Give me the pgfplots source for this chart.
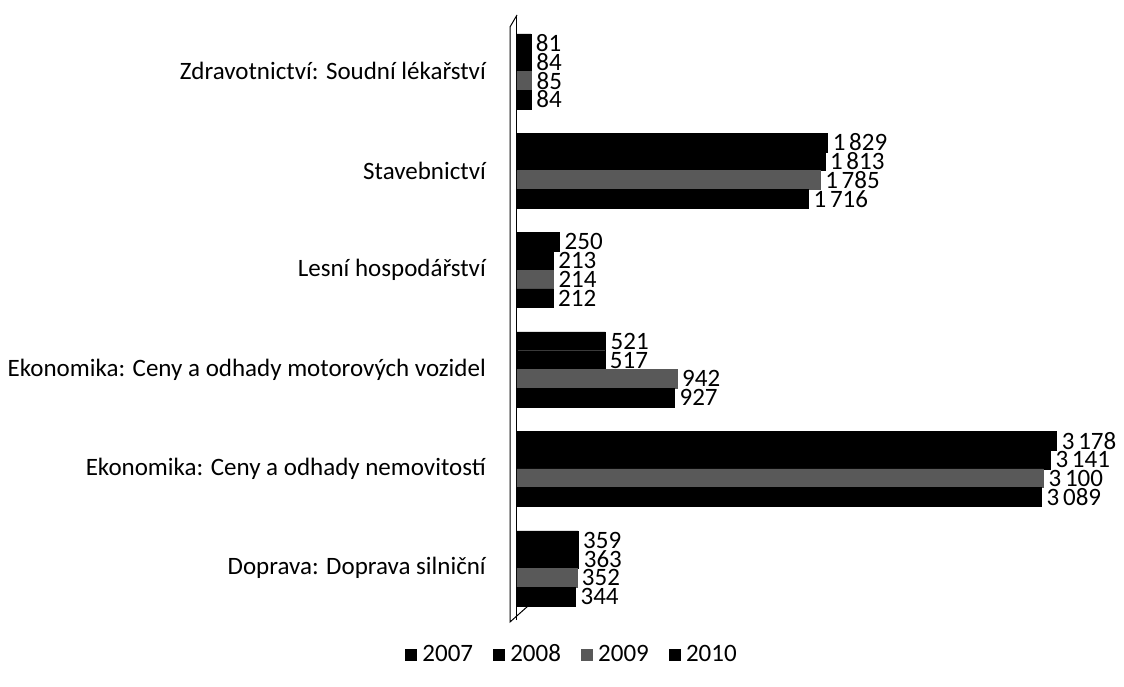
\documentclass[border=0pt]{standalone}
\usepackage{pgfplots}
\pgfplotsset{compat=1.18}
\usepackage{fontspec}
\setmainfont{Carlito}
\begin{document}
\fontsize{25}{28}\selectfont
\begin{tikzpicture}
\begin{axis}[
  at={(517pt,66pt)}, anchor=south west,
  scale only axis, width=594.3pt, height=604.4pt,
  xbar, bar width=18.75pt,
  xmin=0, xmax=3500, ymin=-0.52, ymax=5.56,
  axis x line=none,
  axis y line*=left,
  y axis line style={-, line width=1pt},
  ytick={0,1,2,3,4,5},
  yticklabels={Doprava: Doprava silniční, Ekonomika: Ceny a odhady nemovitostí, Ekonomika: Ceny a odhady motorových vozidel, Lesní hospodářství, Stavebnictví, Zdravotnictví: Soudní lékařství},
  major tick length=0pt,
  yticklabel style={inner sep=0pt, xshift=-31pt, font=\fontsize{25}{28}\selectfont},
  nodes near coords={\pgfmathprintnumber[1000 sep={\hspace{0.15em}}, assume math mode=true]{\pgfplotspointmeta}},
  nodes near coords style={anchor=west, inner sep=0pt, xshift=5pt, font=\fontsize{25}{25}\selectfont},
  legend columns=4,
  legend style={draw=none, at={(0.0925,-0.058)}, anchor=center, font=\fontsize{25}{28}\selectfont,
    /tikz/every even column/.append style={column sep=18pt}, inner sep=0pt},
  legend image code/.code={\path[draw=none,fill=none] (0pt,0pt) -- (15pt,0pt); \fill[#1] (0pt,-5.5pt) rectangle (11pt,5.5pt);},
]
\addplot[fill=black, draw=black, bar shift=28.125pt] coordinates {(359,0) (3178,1) (521,2) (250,3) (1829,4) (81,5)};
\addplot[fill=black, draw=black, bar shift=9.375pt] coordinates {(363,0) (3141,1) (517,2) (213,3) (1813,4) (84,5)};
\addplot[fill=black!65, draw=black!65, bar shift=-9.375pt] coordinates {(352,0) (3100,1) (942,2) (214,3) (1785,4) (85,5)};
\addplot[fill=black, draw=black, bar shift=-28.125pt] coordinates {(344,0) (3089,1) (927,2) (212,3) (1716,4) (84,5)};
\legend{2007,2008,2009,2010}
\end{axis}
% 3D wall edges
\draw[line width=1pt] (510pt,659pt) -- (517pt,671pt);
\draw[line width=1pt] (510pt,659pt) -- (510pt,64pt) -- (528pt,80pt);
\pgfresetboundingbox
\path (0pt,0pt) rectangle (1124pt,686pt);
\end{tikzpicture}
\end{document}
